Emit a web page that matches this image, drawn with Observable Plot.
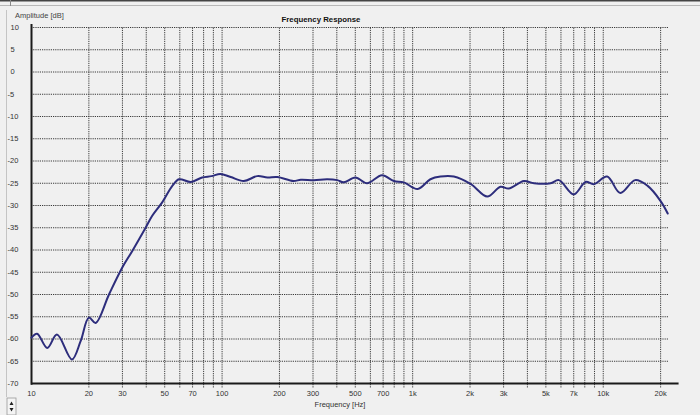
<!DOCTYPE html>
<html>
<head>
<meta charset="utf-8">
<script src="https://cdn.jsdelivr.net/npm/d3@7"></script>
<script src="https://cdn.jsdelivr.net/npm/@observablehq/plot@0.6"></script>
<style>
  html, body { margin: 0; padding: 0; background: #f0f0f0; }
  #chart { position: relative; width: 700px; height: 415px; overflow: hidden; }
</style>
</head>
<body>
<div id="chart"></div>
<script>
// Frequency response (Hz, dB)
const freq = [10, 10.7, 12.1, 13.6, 16.3, 18.1, 20.0, 21.7, 25.5, 29.9, 33.8, 39.7, 43.0, 48.5, 54.8, 59.4, 68.6, 78.6, 88, 98, 111, 130, 153, 173, 195, 237, 259, 303, 356, 402, 435, 501, 576, 690, 797, 898, 1063, 1239, 1400, 1645, 2021, 2463, 2889, 3191, 3835, 4335, 5290, 5850, 7000, 8080, 8930, 10480, 12290, 14700, 17100, 20000, 21800];
const amplitude = [-59.7, -58.8, -62.0, -59.0, -64.6, -60.5, -55.2, -56.4, -50.0, -44.0, -40.2, -35.0, -32.3, -29.3, -25.6, -24.1, -24.7, -23.7, -23.4, -22.9, -23.6, -24.5, -23.4, -23.7, -23.6, -24.5, -24.2, -24.3, -24.1, -24.3, -24.8, -23.7, -25.0, -23.2, -24.5, -24.8, -26.3, -24.1, -23.5, -23.5, -25.2, -28.0, -25.8, -26.2, -24.5, -25.0, -25.0, -24.3, -27.5, -24.7, -25.2, -23.5, -27.2, -24.3, -25.6, -29.0, -31.8];

const xTickValues = [10, 20, 30, 50, 70, 100, 200, 300, 500, 700, 1000, 2000, 3000, 5000, 7000, 10000, 20000];
const xTickLabels = ["10", "20", "30", "50", "70", "100", "200", "300", "500", "700", "1k", "2k", "3k", "5k", "7k", "10k", "20k"];
const xGrid = [20, 30, 40, 50, 60, 70, 80, 90, 100, 200, 300, 400, 500, 600, 700, 800, 900, 1000, 2000, 3000, 4000, 5000, 6000, 7000, 8000, 9000, 10000, 20000];
const yTickValues = [10, 5, 0, -5, -10, -15, -20, -25, -30, -35, -40, -45, -50, -55, -60, -65, -70];
const yGrid = [10, 5, 0, -5, -10, -15, -20, -25, -30, -35, -40, -45, -50, -55, -60, -65];

const data = freq.map((f, i) => ({f, db: amplitude[i]}));

const font = "'Liberation Sans', Arial, sans-serif";

const plot = Plot.plot({
  width: 700,
  height: 415,
  marginTop: 27,
  marginBottom: 32,
  marginLeft: 31,
  marginRight: 32,
  style: {background: "#f0f0f0", fontFamily: font, color: "#222", overflow: "visible"},
  x: {type: "log", domain: [10, 22000], axis: null},
  y: {domain: [-70, 10], axis: null},
  marks: [
    Plot.ruleX(xGrid, {x: d => d, y1: -71, y2: 10, stroke: "#3a3a3a", strokeWidth: 1, strokeDasharray: "1.2,1"}),
    Plot.ruleY(yGrid, {y: d => d, x1: 10, x2: 22000, stroke: "#3a3a3a", strokeWidth: 1, strokeDasharray: "1.2,1"}),
    Plot.ruleY([-70], {x1: 10, x2: 25000, stroke: "#1a1a1a", strokeWidth: 2}),
    Plot.ruleX([10], {y1: -70.4, y2: 10.7, stroke: "#1a1a1a", strokeWidth: 2}),
    Plot.line(data, {x: "f", y: "db", stroke: "#2d2d7c", strokeWidth: 2, curve: "catmull-rom"}),
    Plot.text(xTickValues, {x: d => d, y: () => -70, text: (d, i) => xTickLabels[i], dy: 10, fontSize: 7.5, fill: "#333"}),
    Plot.text(yTickValues.filter(d => d >= 0), {y: d => d, frameAnchor: "left", text: d => String(d), textAnchor: "start", dx: -21, fontSize: 7.5, fill: "#333"}),
    Plot.text(yTickValues.filter(d => d < 0), {y: d => d, frameAnchor: "left", text: d => String(d), textAnchor: "start", dx: -24, fontSize: 7.5, fill: "#333"})
  ]
});

document.getElementById("chart").appendChild(plot);

const svg = d3.select(plot);
svg.append("text").attr("x", 321).attr("y", 22).attr("text-anchor", "middle")
  .attr("font-family", font).attr("font-size", 7.8).attr("font-weight", "bold").attr("fill", "#111")
  .text("Frequency Response");
svg.append("text").attr("x", 15).attr("y", 18).attr("text-anchor", "start")
  .attr("font-family", font).attr("font-size", 7.5).attr("fill", "#444")
  .text("Amplitude [dB]");
svg.append("text").attr("x", 340).attr("y", 407).attr("text-anchor", "middle")
  .attr("font-family", font).attr("font-size", 7.5).attr("fill", "#333")
  .text("Frequency [Hz]");
// window chrome
svg.append("rect").attr("x", 0).attr("y", 0).attr("width", 700).attr("height", 1.5).attr("fill", "#444");
svg.append("line").attr("x1", 0).attr("x2", 700).attr("y1", 5.5).attr("y2", 5.5).attr("stroke", "#b8b8b8");
svg.append("line").attr("x1", 10.5).attr("x2", 10.5).attr("y1", 0).attr("y2", 6).attr("stroke", "#888");
svg.append("line").attr("x1", 6.5).attr("x2", 6.5).attr("y1", 10).attr("y2", 397).attr("stroke", "#c4c4c4");
svg.append("rect").attr("x", 7).attr("y", 398).attr("width", 9).attr("height", 17).attr("fill", "#f4f4f4").attr("stroke", "#999").attr("stroke-width", 0.8);
svg.append("path").attr("d", "M9.5,405 L11.5,401.5 L13.5,405 Z M9.5,408 L11.5,411.5 L13.5,408 Z").attr("fill", "#222");
</script>
</body>
</html>
